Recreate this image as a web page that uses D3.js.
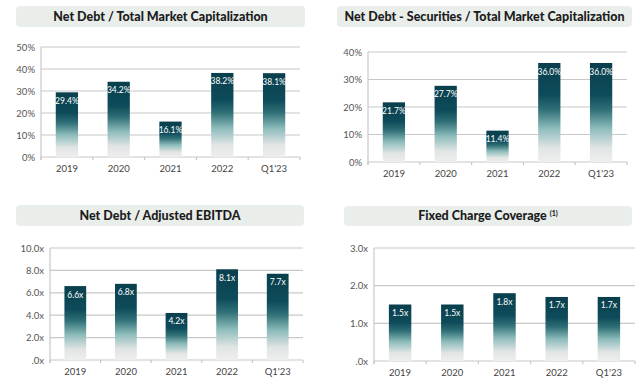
<!DOCTYPE html>
<html>
<head>
<meta charset="utf-8">
<script src="https://cdn.jsdelivr.net/npm/d3@7"></script>
<style>
  body { margin: 0; background: #fff; }
  svg { display: block; font-family: Lato, "Open Sans", sans-serif; }
</style>
</head>
<body>
<svg id="chart" width="640" height="388"></svg>
<script>
const categories = ['2019', '2020', '2021', '2022', "Q1'23"];

const debtToCap = [29.4, 34.2, 16.1, 38.2, 38.1];
const debtSecToCap = [21.7, 27.7, 11.4, 36.0, 36.0];
const debtToEbitda = [6.6, 6.8, 4.2, 8.1, 7.7];
const fixedCharge = [1.5, 1.5, 1.8, 1.7, 1.7];

const pctTicks = [0, 10, 20, 30, 40, 50];
const pctTicks2 = [0, 10, 20, 30, 40];
const ebitdaTicks = [0, 2, 4, 6, 8, 10];
const coverageTicks = [0, 1, 2, 3];

const pctFmt = v => v + '%';
const xFmt = v => (v === 0 ? '.0' : v.toFixed(1)) + 'x';

const panels = [
  { title: 'Net Debt / Total Market Capitalization', values: debtToCap, ticks: pctTicks, max: 50,
    tickFmt: pctFmt, labelFmt: v => v.toFixed(1) + '%',
    box: [16, 6, 305, 27], x: [41, 300], y: [157, 47] },
  { title: 'Net Debt - Securities / Total Market Capitalization', values: debtSecToCap, ticks: pctTicks2, max: 40,
    tickFmt: pctFmt, labelFmt: v => v.toFixed(1) + '%',
    box: [337, 6, 632, 27], x: [368, 627], y: [162, 52] },
  { title: 'Net Debt / Adjusted EBITDA', values: debtToEbitda, ticks: ebitdaTicks, max: 10,
    tickFmt: xFmt, labelFmt: v => v.toFixed(1) + 'x',
    box: [16, 205, 304, 226], x: [50, 303], y: [360, 248] },
  { title: 'Fixed Charge Coverage', sup: '(1)', values: fixedCharge, ticks: coverageTicks, max: 3,
    tickFmt: xFmt, labelFmt: v => v.toFixed(1) + 'x',
    box: [344, 206, 632, 226], x: [374, 635], y: [361, 248] }
];

const svg = d3.select('#chart');

// shared bar gradient (dark teal at top fading to light grey)
const grad = svg.append('defs').append('linearGradient')
  .attr('id', 'barGrad')
  .attr('x1', 0).attr('y1', 0).attr('x2', 0).attr('y2', 1);
[[0, '#093f4d'], [0.32, '#0e4b5a'], [0.47, '#2f6f76'], [0.66, '#8dbcbb'], [0.86, '#e2e5e5'], [1, '#eeeeee']]
  .forEach(([o, c]) => grad.append('stop').attr('offset', o).attr('stop-color', c));

panels.forEach(p => {
  const g = svg.append('g');

  // title box
  const [bx0, by0, bx1, by1] = p.box;
  g.append('rect')
    .attr('x', bx0).attr('y', by0)
    .attr('width', bx1 - bx0).attr('height', by1 - by0)
    .attr('rx', 4)
    .attr('fill', '#e9eeeb');
  const t = g.append('text')
    .attr('x', (bx0 + bx1) / 2)
    .attr('y', (by0 + by1) / 2 + 4)
    .attr('text-anchor', 'middle')
    .attr('font-size', 12.5)
    .attr('font-weight', 900)
    .attr('fill', '#1c1c1c')
    .text(p.title);
  if (p.sup) {
    t.append('tspan').attr('dx', 3).attr('dy', -4).attr('font-size', 7).text(p.sup);
  }

  const x = d3.scaleBand().domain(categories).range(p.x).padding(0);
  const y = d3.scaleLinear().domain([0, p.max]).range(p.y);

  // gridlines
  g.selectAll('.grid')
    .data(p.ticks)
    .enter()
    .append('line')
    .attr('x1', p.x[0]).attr('x2', p.x[1])
    .attr('y1', d => y(d)).attr('y2', d => y(d))
    .attr('stroke', '#c8c8c8')
    .attr('stroke-width', 1.2);

  // y axis line
  g.append('line')
    .attr('x1', p.x[0]).attr('x2', p.x[0])
    .attr('y1', p.y[0] + 3).attr('y2', p.y[1])
    .attr('stroke', '#c8c8c8')
    .attr('stroke-width', 1.2);

  // y tick labels
  g.selectAll('.ylab')
    .data(p.ticks)
    .enter()
    .append('text')
    .attr('x', p.x[0] - 6)
    .attr('y', d => y(d) + 3.5)
    .attr('text-anchor', 'end')
    .attr('font-size', 9.5)
    .attr('fill', '#555')
    .text(p.tickFmt);

  // x tick marks at category boundaries
  const bounds = categories.map(c => x(c)).concat([p.x[1]]);
  g.selectAll('.xtick')
    .data(bounds)
    .enter()
    .append('line')
    .attr('x1', d => d).attr('x2', d => d)
    .attr('y1', p.y[0]).attr('y2', p.y[0] + 3)
    .attr('stroke', '#c8c8c8')
    .attr('stroke-width', 1.2);

  // x labels
  g.selectAll('.xlab')
    .data(categories)
    .enter()
    .append('text')
    .attr('x', d => x(d) + x.bandwidth() / 2)
    .attr('y', p.y[0] + 15)
    .attr('text-anchor', 'middle')
    .attr('font-size', 9.5)
    .attr('fill', '#444')
    .text(d => d);

  // bars
  const bw = x.bandwidth() * 0.43;
  g.selectAll('.bar')
    .data(p.values)
    .enter()
    .append('rect')
    .attr('x', (d, i) => x(categories[i]) + (x.bandwidth() - bw) / 2)
    .attr('y', d => y(d))
    .attr('width', bw)
    .attr('height', d => y(0) - y(d))
    .attr('fill', 'url(#barGrad)');

  // value labels
  g.selectAll('.val')
    .data(p.values)
    .enter()
    .append('text')
    .attr('x', (d, i) => x(categories[i]) + x.bandwidth() / 2)
    .attr('y', d => y(d) + 11.5)
    .attr('text-anchor', 'middle')
    .attr('font-size', 8.5)
    .attr('fill', '#fff')
    .text(p.labelFmt);
});
</script>
</body>
</html>
